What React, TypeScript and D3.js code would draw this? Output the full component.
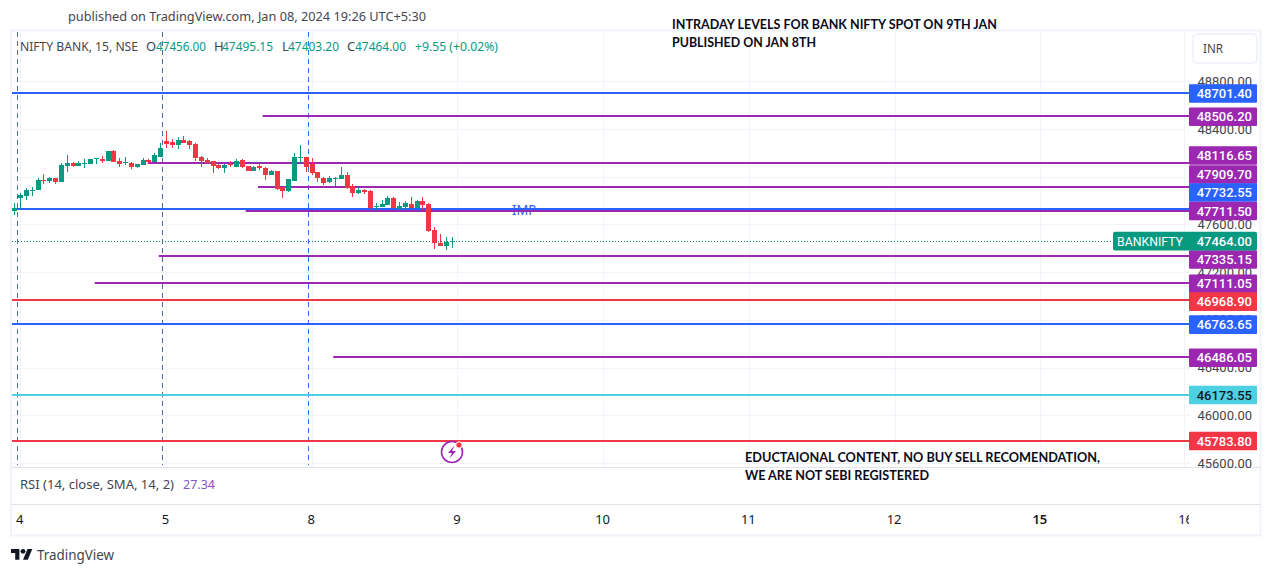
import React from "react";
import * as d3 from "d3";

const opens = [47712,47821,47838,47880,47888,47972,47963,47989,47955,48089,48115,48089,48106,48106,48148,48148,48131,48215,48131,48115,48115,48081,48098,48140,48123,48165,48299,48291,48265,48307,48299,48274,48165,48140,48131,48098,48073,48106,48081,48140,48089,48047,48089,48073,48014,48047,47913,47880,47963,48156,48165,48106,48039,47989,47955,47980,47980,48014,47922,47863,47888,47880,47745,47745,47762,47821,47729,47745,47771,47737,47796,47771,47553,47444,47419,47456];
const highs = [47779,47863,47905,47913,47989,48022,47997,47989,48115,48182,48123,48131,48148,48148,48156,48173,48215,48223,48156,48165,48123,48106,48156,48148,48198,48282,48382,48316,48332,48341,48307,48282,48173,48156,48131,48115,48106,48131,48148,48148,48089,48089,48115,48081,48056,48047,47913,47980,48198,48265,48165,48156,48039,47997,48005,47997,48081,48039,47938,47913,47896,47888,47779,47804,47838,47829,47787,47796,47829,47804,47829,47779,47578,47519,47494,47495.15];
const lows = [47678,47729,47804,47838,47888,47938,47947,47938,47955,48039,48081,48089,48073,48106,48106,48115,48131,48123,48081,48098,48064,48073,48098,48115,48123,48165,48240,48240,48232,48282,48232,48131,48081,48106,48031,48064,48031,48081,48081,48073,48047,48047,48056,47972,48014,47888,47821,47871,47963,48115,48039,48014,47955,47930,47947,47922,47980,47896,47829,47854,47854,47729,47720,47745,47762,47737,47729,47720,47737,47729,47720,47536,47393,47419,47385,47403.2];
const closes = [47737,47846,47888,47888,47972,47963,47989,47955,48098,48115,48089,48115,48115,48148,48156,48131,48215,48123,48106,48123,48081,48106,48140,48123,48182,48240,48274,48265,48307,48282,48265,48156,48131,48115,48089,48073,48098,48098,48131,48081,48047,48081,48073,48014,48047,47896,47880,47980,48165,48165,48081,48031,47989,47947,47989,47989,48014,47905,47863,47888,47871,47737,47754,47771,47821,47737,47754,47779,47737,47796,47762,47544,47444,47419,47456,47464];

const levelValues = [48701.4,48506.2,48116.65,47909.7,47732.55,47711.5,47335.15,47111.05,46968.9,46763.65,46486.05,46173.55,45783.8];
const levelKinds = ["blue","purple","purple","purple","blue","purple","purple","purple","red","blue","purple","cyan","red"];
const levelStarts = [-0.4,42.6,22.9,41.8,-0.4,39.7,24.8,13.8,-0.4,-0.4,54.7,-0.4,-0.4];
const labelShifts = [0.5,0.5,-7.3,-13,-16,0,3.5,1,2,0.5,0.5,0.5,0];

const priceTicks = [48800,48400,48000,47600,47200,46800,46400,46000,45600];
const dayLabels = ["4","5","8","9","10","11","12","15","16"];
const dayIndex = [1,26,51,76,101,126,151,176,201];
const sessionBreaks = [0.5,25.5,50.5];
const breakColors = ["#4a6fb0","#4f6a9c","#2979ff"];

const COL: Record<string, string> = { blue: "#2962ff", purple: "#9c27b0", red: "#f23645", cyan: "#4dd0e1" };
const UP = "#089981";
const DOWN = "#f23645";
const FONT = "'Noto Sans', Roboto, sans-serif";
const NUM = "Roboto, sans-serif";

const y = d3.scaleLinear().domain([48701.4, 45783.8]).range([93, 441]);
const x = d3.scaleLinear().domain([0, 75]).range([14.3, 451.55]);

const PANE_L = 12, PANE_T = 32, PANE_B = 467, LABEL_X = 1189, LABEL_W = 68, LABEL_H = 18.6;

function Txt(p: any) {
  return <text fontFamily={FONT} fontSize={13} fill="#434651" {...p} />;
}

export default function App() {
  const last = closes[closes.length - 1];
  const candles = d3.range(opens.length).map((i) => {
    const up = closes[i] >= opens[i];
    const cx = Math.round(x(i));
    const top = Math.round(y(Math.max(opens[i], closes[i])));
    const bot = Math.round(y(Math.min(opens[i], closes[i])));
    const hi = Math.round(y(highs[i]));
    const lo = Math.round(y(lows[i]));
    const c = up ? UP : DOWN;
    return (
      <g key={i} fill={c}>
        <rect x={cx} y={hi} width={1} height={lo - hi} />
        <rect x={cx - 2} y={top} width={5} height={Math.max(1, bot - top)} />
      </g>
    );
  });
  return (
    <svg width={1272} height={574} style={{ position: "absolute", left: 0, top: 0, display: "block", background: "#fff" }}>
      <defs>
        <clipPath id="pane"><rect x={PANE_L} y={PANE_T} width={LABEL_X - PANE_L} height={PANE_B - PANE_T} /></clipPath>
        <clipPath id="axisR"><rect x={1186} y={PANE_T} width={74} height={PANE_B - PANE_T + 2} /></clipPath>
        <clipPath id="time"><rect x={12} y={505} width={1177} height={29} /></clipPath>
      </defs>

      {/* frame */}
      <rect x={11} y={30.5} width={1249.5} height={505} fill="#fff" stroke="#f0f3fa" strokeWidth={2} />

      {/* grid */}
      <g stroke="#f0f3fa" strokeWidth={1}>
        {priceTicks.map((t) => <line key={t} x1={PANE_L} x2={1189} y1={Math.round(y(t)) + 0.5} y2={Math.round(y(t)) + 0.5} />)}
        {dayIndex.slice(0, 8).map((d) => <line key={d} x1={Math.round(x(d)) + 0.5} x2={Math.round(x(d)) + 0.5} y1={PANE_T} y2={PANE_B} />)}
        <line x1={1184.5} x2={1184.5} y1={PANE_T} y2={PANE_B} />
      </g>

      {/* pane separators */}
      <g stroke="#e0e3eb" strokeWidth={1}>
        <line x1={12} x2={1260} y1={467.5} y2={467.5} />
        <line x1={12} x2={1260} y1={504.5} y2={504.5} />
      </g>

      {/* price axis labels */}
      <g clipPath="url(#axisR)">
        {priceTicks.map((t) => (
          <text key={t} x={1252} y={y(t) + 4.6} textAnchor="end" fontFamily={NUM} fontSize={13} fill="#434651">{d3.format(".2f")(t)}</text>
        ))}
      </g>

      {/* IMP note */}
      <text x={512} y={214.5} fontFamily={FONT} fontSize={14} fill="#2962ff" textLength={24} lengthAdjust="spacingAndGlyphs">IMP</text>

      {/* session breaks */}
      {sessionBreaks.map((b, i) => (
        <line key={b} x1={Math.floor(x(b)) + 0.5} x2={Math.floor(x(b)) + 0.5} y1={PANE_T} y2={465} stroke={breakColors[i]} strokeWidth={1} strokeDasharray="5 4" />
      ))}

      {/* levels */}
      <g clipPath="url(#pane)">
        {levelValues.map((v, i) => (
          <line key={v} x1={x(levelStarts[i])} x2={LABEL_X} y1={Math.round(y(v))} y2={Math.round(y(v))} stroke={COL[levelKinds[i]]} strokeWidth={2} />
        ))}
        <line x1={PANE_L} x2={1113} y1={Math.round(y(last)) + 0.5} y2={Math.round(y(last)) + 0.5} stroke="#0a7d6b" strokeWidth={1} strokeDasharray="1 2" />
        {candles}
      </g>

      {/* level tags */}
      {levelValues.map((v, i) => {
        const cy = y(v) + labelShifts[i];
        const k = levelKinds[i];
        return (
          <g key={v}>
            <rect x={LABEL_X} y={cy - LABEL_H / 2} width={LABEL_W} height={LABEL_H} rx={1} fill={COL[k]} />
            <text x={1252} y={cy + 4.6} textAnchor="end" fontFamily={NUM} fontSize={13} fontWeight={500} fill={k === "cyan" ? "#131722" : "#fff"}>{d3.format(".2f")(v)}</text>
          </g>
        );
      })}

      {/* last price tag */}
      <rect x={1113} y={y(last) - 8.8} width={144} height={18.6} rx={2} fill={UP} />
      <text x={1117} y={y(last) + 5.1} fontFamily={NUM} fontSize={13} fill="#fff" textLength={66} lengthAdjust="spacingAndGlyphs">BANKNIFTY</text>
      <text x={1252} y={y(last) + 5.1} textAnchor="end" fontFamily={NUM} fontSize={13} fontWeight={500} fill="#fff">{d3.format(".2f")(last)}</text>

      {/* currency */}
      <rect x={1193} y={34} width={64} height={29} rx={4} fill="#fff" stroke="#f0f3fa" strokeWidth={2} />
      <Txt x={1203} y={53} textLength={20} lengthAdjust="spacingAndGlyphs">INR</Txt>

      {/* header */}
      <Txt x={68} y={21} textLength={358} lengthAdjust="spacingAndGlyphs">published on TradingView.com, Jan 08, 2024 19:26 UTC+5:30</Txt>
      <Txt x={20} y={51} textLength={118} lengthAdjust="spacingAndGlyphs">NIFTY BANK, 15, NSE</Txt>
      <Txt x={146} y={51}>O</Txt>
      <Txt x={156} y={51} fill={UP} textLength={50} lengthAdjust="spacingAndGlyphs">47456.00</Txt>
      <Txt x={214} y={51}>H</Txt>
      <Txt x={222} y={51} fill={UP} textLength={51} lengthAdjust="spacingAndGlyphs">47495.15</Txt>
      <Txt x={282} y={51}>L</Txt>
      <Txt x={288} y={51} fill={UP} textLength={51} lengthAdjust="spacingAndGlyphs">47403.20</Txt>
      <Txt x={347} y={51}>C</Txt>
      <Txt x={355} y={51} fill={UP} textLength={51} lengthAdjust="spacingAndGlyphs">47464.00</Txt>
      <Txt x={415} y={51} fill={UP} textLength={83} lengthAdjust="spacingAndGlyphs">+9.55 (+0.02%)</Txt>

      {/* annotations */}
      <g fontFamily="Lato, sans-serif" fontWeight={700} fontSize={13} fill="#0b0b1a">
        <text x={672} y={29} textLength={325} lengthAdjust="spacingAndGlyphs">INTRADAY LEVELS FOR BANK NIFTY SPOT ON 9TH JAN</text>
        <text x={672} y={47} textLength={144} lengthAdjust="spacingAndGlyphs">PUBLISHED ON JAN 8TH</text>
        <text x={745} y={462} textLength={355} lengthAdjust="spacingAndGlyphs">EDUCTAIONAL CONTENT, NO BUY SELL RECOMENDATION,</text>
        <text x={745} y={480} textLength={184} lengthAdjust="spacingAndGlyphs">WE ARE NOT SEBI REGISTERED</text>
      </g>

      {/* flash icon */}
      <circle cx={452} cy={452} r={14} fill="#fff" />
      <line x1={430} x2={475} y1={441} y2={441} stroke={COL.red} strokeWidth={2} />
      <circle cx={452} cy={452} r={10.5} fill="#fff" stroke="#9c27b0" strokeWidth={1.6} />
      <path d="M454.5 445.5 L448 453 H452 L449.5 458.5 L456 451 H452 Z" fill="#9c27b0" />
      <circle cx={459} cy={445} r={3.2} fill="#f23645" stroke="#fff" strokeWidth={1} />

      {/* RSI */}
      <Txt x={20} y={489} textLength={154} lengthAdjust="spacingAndGlyphs">RSI (14, close, SMA, 14, 2)</Txt>
      <Txt x={183} y={489} fill="#7e57c2" textLength={32} lengthAdjust="spacingAndGlyphs">27.34</Txt>

      {/* time axis */}
      <g clipPath="url(#time)">
        {dayLabels.map((d, i) => (
          <text key={d} x={x(dayIndex[i]) - 0.5} y={524} textAnchor="middle" fontFamily={FONT} fontSize={13} fill="#131722" fontWeight={d === "15" ? 600 : 400}>{d}</text>
        ))}
      </g>

      {/* logo */}
      <g transform="translate(11,546.5) scale(0.6)" fill="#131722">
        <path d="M14 22H7V11H0V4h14v18zM28 22h-8l7.5-18h8L28 22z" />
        <circle cx={20} cy={8} r={4} />
      </g>
      <Txt x={37} y={560} fontSize={14} textLength={77} lengthAdjust="spacingAndGlyphs">TradingView</Txt>
    </svg>
  );
}
